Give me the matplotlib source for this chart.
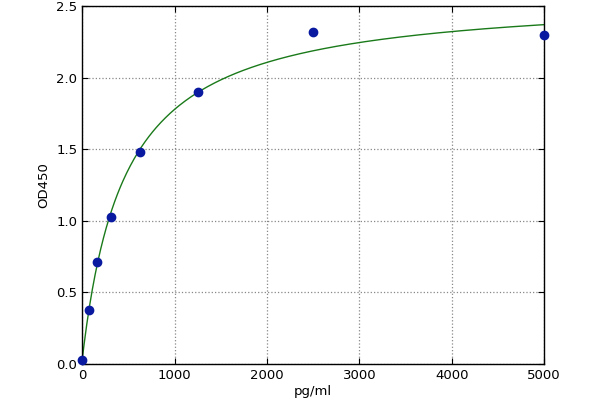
import numpy as np
import matplotlib
matplotlib.use("Agg")
import matplotlib.pyplot as plt

conc = [0, 78, 156, 312, 625, 1250, 2500, 5000]
od = [0.03, 0.38, 0.71, 1.03, 1.48, 1.90, 2.32, 2.30]

# fitted curve parameters (hyperbolic / 4PL-like)
fit_bottom = 0.03
fit_span = 2.556
fit_c = 462.0
fit_b = 1.0

xticks = [0, 1000, 2000, 3000, 4000, 5000]
yticks = [0.0, 0.5, 1.0, 1.5, 2.0, 2.5]

fig = plt.figure(figsize=(6, 4), dpi=100)
ax = fig.add_axes([0.137, 0.09, 0.770, 0.895])

xs = np.linspace(0, 5000, 500)
ys = fit_bottom + fit_span * (xs / fit_c) ** fit_b / (1 + (xs / fit_c) ** fit_b)
ax.plot(xs, ys, color="#1a7a1a", linewidth=1.0, zorder=2)
ax.plot(conc, od, "o", color="#0a1aa0", markersize=6, markeredgecolor="#0a1aa0", zorder=3, clip_on=False)

ax.set_xlim(0, 5000)
ax.set_ylim(0, 2.5)
ax.set_xticks(xticks)
ax.set_yticks(yticks)
ax.set_yticklabels([f"{v:.1f}" for v in yticks])
ax.grid(True, linestyle=":", color="#888888", linewidth=0.9)
ax.tick_params(direction="in", top=True, right=True, labelsize=9.5, length=4)
for s in ax.spines.values():
    s.set_linewidth(1.0)
ax.set_xlabel("pg/ml", fontsize=9.5, labelpad=2)
ax.set_ylabel("OD450", fontsize=9.5)

fig.savefig("out.png", dpi=100)
